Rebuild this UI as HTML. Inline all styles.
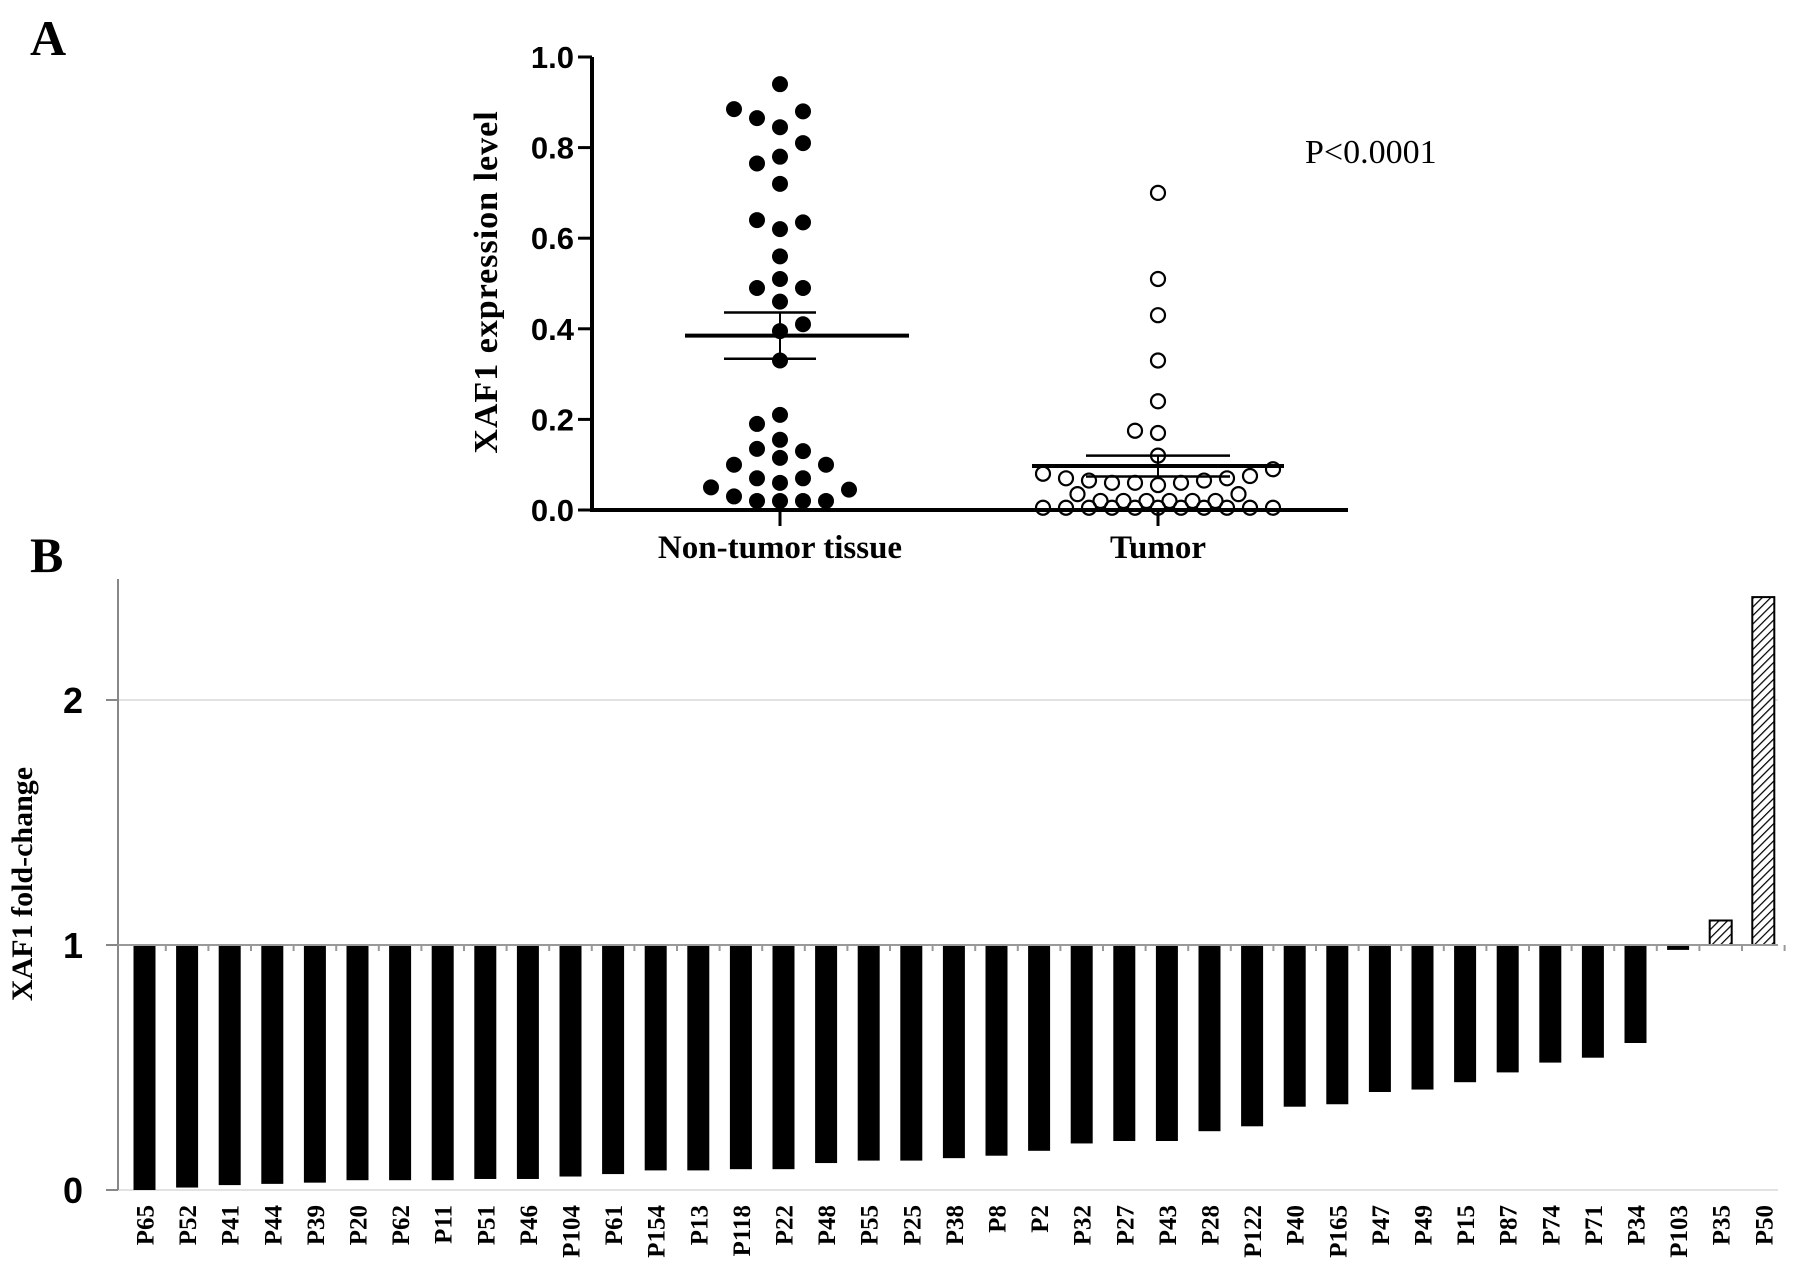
<!DOCTYPE html>
<html><head><meta charset="utf-8"><style>
html,body{margin:0;padding:0;background:#fff;}
svg{display:block;}
</style></head><body>
<svg id="fig" width="1795" height="1280" viewBox="0 0 1795 1280" xmlns="http://www.w3.org/2000/svg">
<text x="30" y="55" font-family="Liberation Serif, serif" font-weight="bold" font-size="50">A</text>
<text x="30" y="572" font-family="Liberation Serif, serif" font-weight="bold" font-size="50">B</text>
<g id="pa"></g>
<g id="pb"></g>
</svg>
<script>
// ---------- Panel A data ----------
const groupNames = ["Non-tumor tissue", "Tumor"];
const yTicksA = [0.0, 0.2, 0.4, 0.6, 0.8, 1.0];
const yTickLabelsA = ["0.0", "0.2", "0.4", "0.6", "0.8", "1.0"];
const nonTumorValues = [0.94,0.885,0.865,0.88,0.845,0.81,0.78,0.765,0.72,0.64,0.62,0.635,0.56,0.51,0.49,0.49,0.46,0.41,0.395,0.33,0.21,0.19,0.155,0.135,0.13,0.115,0.1,0.1,0.07,0.07,0.06,0.05,0.045,0.03,0.02,0.02,0.02,0.02];
const nonTumorJitter = [0,-2,-1,1,0,1,0,-1,0,-1,0,1,0,0,-1,1,0,1,0,0,0,-1,0,-1,1,0,-2,2,-1,1,0,-3,3,-2,-1,0,1,2];
const tumorValues = [0.70,0.51,0.43,0.33,0.24,0.175,0.17,0.12,0.08,0.07,0.065,0.06,0.06,0.055,0.06,0.065,0.07,0.075,0.09,0.035,0.02,0.02,0.02,0.02,0.02,0.02,0.035,0.005,0.005,0.005,0.005,0.005,0.005,0.005,0.005,0.005,0.005,0.005];
const tumorJitter = [0,0,0,0,0,-1,0,0,-5,-4,-3,-2,-1,0,1,2,3,4,5,-3.5,-2.5,-1.5,-0.5,0.5,1.5,2.5,3.5,-5,-4,-3,-2,-1,0,1,2,3,4,5];
const groupMeans = [0.385, 0.097];
const groupSEM = [0.051, 0.023];
const pText = "P<0.0001";

// ---------- Panel B data ----------
const patients = ["P65","P52","P41","P44","P39","P20","P62","P11","P51","P46","P104","P61","P154","P13","P118","P22","P48","P55","P25","P38","P8","P2","P32","P27","P43","P28","P122","P40","P165","P47","P49","P15","P87","P74","P71","P34","P103","P35","P50"];
const foldChange = [0.0,0.01,0.02,0.025,0.03,0.04,0.04,0.04,0.045,0.045,0.055,0.065,0.08,0.08,0.085,0.085,0.11,0.12,0.12,0.13,0.14,0.16,0.19,0.2,0.2,0.24,0.26,0.34,0.35,0.4,0.41,0.44,0.48,0.52,0.54,0.6,0.98,1.1,2.42];
const yTicksB = [0, 1, 2];
const yTickLabelsB = ["0", "1", "2"];

const NS = "http://www.w3.org/2000/svg";
function mk(parent, tag, attrs, text) {
  const e = document.createElementNS(NS, tag);
  for (const k in attrs) e.setAttribute(k, attrs[k]);
  if (text !== undefined) e.textContent = text;
  parent.appendChild(e);
  return e;
}
const defs = mk(document.getElementById('fig'), 'defs', {});
const pat = mk(defs, 'pattern', {id:'hatch', width:'6', height:'6', patternUnits:'userSpaceOnUse', patternTransform:'rotate(45)'});
mk(pat, 'rect', {width:'6', height:'6', fill:'#fff'});
mk(pat, 'line', {x1:'0', y1:'0', x2:'0', y2:'6', stroke:'#000', 'stroke-width':'2.5'});

// ---------- Panel A ----------
const pa = document.getElementById('pa');
const ax0 = 592, ay0 = 510, ay1 = 57, axRight = 1348;
const yA = v => ay0 - (v / 1.0) * (ay0 - ay1);
const groupX = [780, 1158];
const xA = i => groupX[i];
const step = 23;

let el = mk(pa, 'line', {x1:ax0, y1:ay1, x2:ax0, y2:ay0, stroke:'#000', 'stroke-width':'4'});


el = mk(pa, 'line', {x1:ax0-2, y1:ay0, x2:axRight, y2:ay0, stroke:'#000', 'stroke-width':'4'});


for (let i = 0; i < yTicksA.length; i++) {
  const y = yA(yTicksA[i]);
  el = mk(pa, 'line', {x1:ax0-14, y1:y, x2:ax0, y2:y, stroke:'#000', 'stroke-width':'3'});
  
  
  el = mk(pa, 'text', {x:ax0-18, y:y+11, 'text-anchor':'end', 'font-family':'Liberation Sans, sans-serif', 'font-weight':'bold', 'font-size':'31'}, yTickLabelsA[i]);
  
  
}
for (let i = 0; i < groupNames.length; i++) {
  el = mk(pa, 'line', {x1:xA(i), y1:ay0, x2:xA(i), y2:ay0+16, stroke:'#000', 'stroke-width':'3'});
  
  
  el = mk(pa, 'text', {x:xA(i), y:558, 'text-anchor':'middle', 'font-family':'Liberation Serif, serif', 'font-weight':'bold', 'font-size':'33'}, groupNames[i]);
  
  
}
el = mk(pa, 'text', {transform:'translate(497,282) rotate(-90)', 'text-anchor':'middle', 'font-family':'Liberation Serif, serif', 'font-weight':'bold', 'font-size':'34', 'letter-spacing':'1'}, 'XAF1 expression level');


el = mk(pa, 'text', {x:1305, y:163, 'font-family':'Liberation Serif, serif', 'font-size':'34'}, pText);



for (let i = 0; i < nonTumorValues.length; i++) {
  el = mk(pa, 'circle', {cx:xA(0)+nonTumorJitter[i]*step, cy:yA(nonTumorValues[i]), r:8, fill:'#000'});
  
  
}
for (let i = 0; i < tumorValues.length; i++) {
  el = mk(pa, 'circle', {cx:xA(1)+tumorJitter[i]*step, cy:yA(tumorValues[i]), r:7, fill:'none', stroke:'#000', 'stroke-width':'2.2'});
  
  
}
const meanOff = [17, 0], meanHalf = [112, 126], semOff = [-10, 0], semHalf = [46, 72];
for (let i = 0; i < 2; i++) {
  const cx = xA(i);
  el = mk(pa, 'line', {x1:cx+meanOff[i]-meanHalf[i], y1:yA(groupMeans[i]), x2:cx+meanOff[i]+meanHalf[i], y2:yA(groupMeans[i]), stroke:'#000', 'stroke-width':'4'});
  
  
  const hi = groupMeans[i] + groupSEM[i], lo = groupMeans[i] - groupSEM[i];
  el = mk(pa, 'line', {x1:cx, y1:yA(hi), x2:cx, y2:yA(lo), stroke:'#000', 'stroke-width':'2'});
  
  
  el = mk(pa, 'line', {x1:cx+semOff[i]-semHalf[i], y1:yA(hi), x2:cx+semOff[i]+semHalf[i], y2:yA(hi), stroke:'#000', 'stroke-width':'2.5'});
  
  
  el = mk(pa, 'line', {x1:cx+semOff[i]-semHalf[i], y1:yA(lo), x2:cx+semOff[i]+semHalf[i], y2:yA(lo), stroke:'#000', 'stroke-width':'2.5'});
  
  
}

// ---------- Panel B ----------
const pb = document.getElementById('pb');
const bx0 = 118, bxRight = 1778, by0 = 1190, perUnit = 245;
const yB = v => by0 - v * perUnit;
const firstX = 144.5, barStep = 42.6, barW = 22;
const xB = i => firstX + i * barStep;

el = mk(pb, 'line', {x1:bx0, y1:yB(2), x2:bxRight, y2:yB(2), stroke:'#d8d8d8', 'stroke-width':'1.5'});


el = mk(pb, 'line', {x1:bx0, y1:yB(0), x2:bxRight, y2:yB(0), stroke:'#d8d8d8', 'stroke-width':'1.5'});


el = mk(pb, 'line', {x1:bx0, y1:579, x2:bx0, y2:yB(0), stroke:'#888', 'stroke-width':'2'});


for (let i = 0; i < yTicksB.length; i++) {
  const y = yB(yTicksB[i]);
  el = mk(pb, 'line', {x1:bx0-12, y1:y, x2:bx0, y2:y, stroke:'#888', 'stroke-width':'2'});
  
  
  el = mk(pb, 'text', {x:73, y:y+13, 'text-anchor':'middle', 'font-family':'Liberation Sans, sans-serif', 'font-weight':'bold', 'font-size':'36'}, yTickLabelsB[i]);
  
  
}
el = mk(pb, 'text', {transform:'translate(32,884) rotate(-90)', 'text-anchor':'middle', 'font-family':'Liberation Serif, serif', 'font-weight':'bold', 'font-size':'30'}, 'XAF1 fold-change');



for (let i = 0; i < patients.length; i++) {
  const v = foldChange[i];
  const up = v > 1;
  const top = up ? yB(v) : yB(1);
  const h = Math.max(Math.abs(yB(v) - yB(1)), 2);
  el = mk(pb, 'rect', {x:xB(i)-barW/2, y:top, width:barW, height:h, fill: up ? 'url(#hatch)' : '#000', stroke:'#000', 'stroke-width': up ? 2 : 0});
  
  
  el = mk(pb, 'text', {transform:'translate(' + (xB(i)+9) + ',1205) rotate(-90)', 'text-anchor':'end', 'font-family':'Liberation Serif, serif', 'font-weight':'bold', 'font-size':'25'}, patients[i]);
  
  
  el = mk(pb, 'line', {x1:xB(i)+barStep/2, y1:yB(1), x2:xB(i)+barStep/2, y2:yB(1)+6, stroke:'#999', 'stroke-width':'2'});
  
  
}
el = mk(pb, 'line', {x1:bx0, y1:yB(1), x2:bxRight, y2:yB(1), stroke:'#999', 'stroke-width':'2'});


</script>
</body></html>
